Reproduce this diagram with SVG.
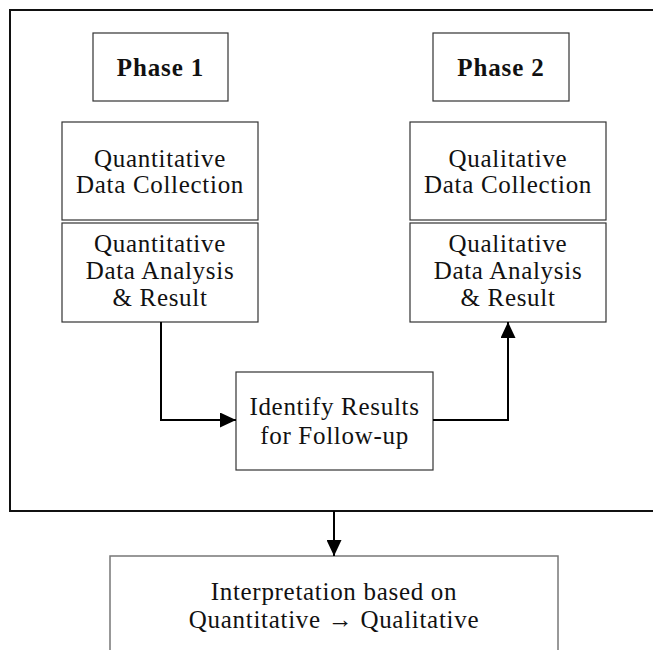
<svg xmlns="http://www.w3.org/2000/svg" width="653" height="650" viewBox="0 0 653 650">
<style>
.box{fill:#fff;stroke:#333;stroke-width:1.2}
.t{font-family:"Liberation Serif","Times New Roman",serif;font-size:25px;letter-spacing:0.7px;fill:#111;text-anchor:middle}
.b{font-weight:bold;letter-spacing:0.9px}
.c{fill:none;stroke:#000;stroke-width:2}
</style>
<defs>
<marker id="ah" viewBox="0 0 16 15" refX="16" refY="7.5" markerWidth="16" markerHeight="15" markerUnits="userSpaceOnUse" orient="auto">
<path d="M0,0 L16,7.5 L0,15 Z" fill="#000"/>
</marker>
</defs>
<rect id="frame" x="10" y="10" width="660" height="501" fill="none" stroke="#111" stroke-width="2"/>
<g id="phase1"><rect class="box" x="93" y="33" width="135" height="68"/><text class="t b" x="160.5" y="76">Phase 1</text></g>
<g id="phase2"><rect class="box" x="433" y="33" width="136" height="68"/><text class="t b" x="501" y="76">Phase 2</text></g>
<g id="quant-collect"><rect class="box" x="62" y="122" width="196" height="98"/><text class="t" x="160" y="167">Quantitative</text><text class="t" x="160" y="193">Data Collection</text></g>
<g id="quant-analysis"><rect class="box" x="62" y="223" width="196" height="99"/><text class="t" x="160" y="252">Quantitative</text><text class="t" x="160" y="279">Data Analysis</text><text class="t" x="160" y="306">&amp; Result</text></g>
<g id="qual-collect"><rect class="box" x="410" y="122" width="196" height="98"/><text class="t" x="508" y="167">Qualitative</text><text class="t" x="508" y="193">Data Collection</text></g>
<g id="qual-analysis"><rect class="box" x="410" y="223" width="196" height="99"/><text class="t" x="508" y="252">Qualitative</text><text class="t" x="508" y="279">Data Analysis</text><text class="t" x="508" y="306">&amp; Result</text></g>
<g id="identify"><rect class="box" x="236" y="372" width="197" height="98"/><text class="t" x="334.5" y="415">Identify Results</text><text class="t" x="334.5" y="444">for Follow-up</text></g>
<g id="interpretation"><rect x="110" y="556" width="448" height="120" fill="#fff" stroke="#777" stroke-width="1.5"/><text class="t" x="334" y="600">Interpretation based on</text><text class="t" x="334" y="628">Quantitative → Qualitative</text></g>
<g id="connectors">
<path class="c" d="M161,322 V420 H236" marker-end="url(#ah)"/>
<path class="c" d="M433,420 H508 V322" marker-end="url(#ah)"/>
<path class="c" d="M334,511 V556" marker-end="url(#ah)"/>
</g>
</svg>
